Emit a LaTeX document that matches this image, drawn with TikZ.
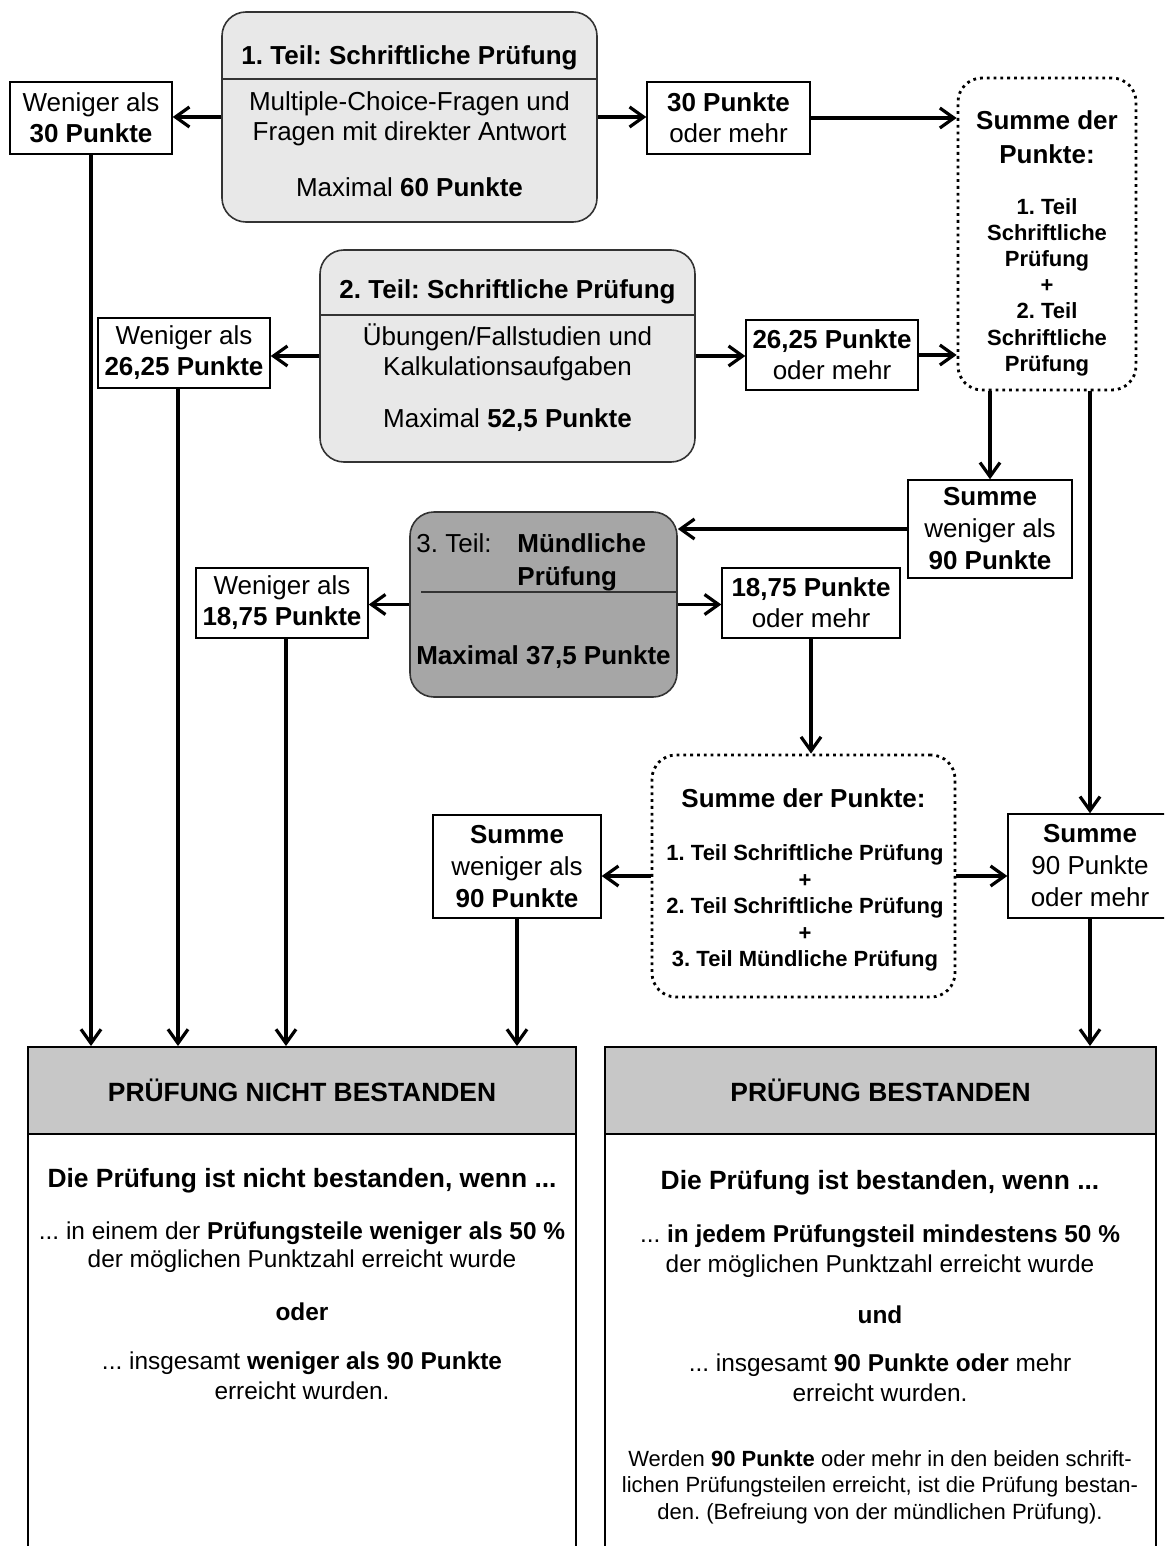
\documentclass[tikz,border=0pt]{standalone}
\usepackage{fontspec}
\setmainfont{Liberation Sans}
\usetikzlibrary{arrows.meta}
\frenchspacing

\begin{document}
\begin{tikzpicture}[x=0.5pt,y=-0.5pt]
  \tikzstyle{teil}=[draw=black!80,line width=0.8pt,rounded corners=12pt,fill=black!9]
  \tikzstyle{feld}=[draw,line width=0.7pt,align=center,inner sep=1pt,font=\fontsize{13}{15.5}\selectfont]
  \tikzstyle{summe}=[draw,dotted,line width=1.4pt,rounded corners=12pt]
  \tikzstyle{kopf}=[draw,line width=0.8pt,fill=black!22,font=\fontsize{13.2}{16}\selectfont\bfseries]
  \tikzstyle{txt}=[align=center,font=\fontsize{13}{15}\selectfont]
  \tikzstyle{pfeil}=[-{Straight Barb[length=7pt,width=10pt]},line width=1.6pt]
  \useasboundingbox (0,0) rectangle (1164,1546);
  \clip (0,0) rectangle (1164,1546);

  \node[teil,minimum width=187.5pt,minimum height=105pt] (t1) at (409.5,117) {};
  \draw[line width=0.8pt,black!80] ([yshift=-34pt]t1.north west) -- ([yshift=-34pt]t1.north east);
  \node[txt] (t1k) at (409.5,58) {\textbf{1. Teil: Schriftliche Prüfung}};
  \node[txt] (t1a) at (409.5,119) {Multiple-Choice-Fragen und\\Fragen mit direkter Antwort};
  \node[txt] (t1b) at (409.5,187) {Maximal \textbf{60 Punkte}};

  \node[teil,minimum width=187.5pt,minimum height=106pt] (t2) at (507.5,356) {};
  \draw[line width=0.8pt,black!80] ([yshift=-33pt]t2.north west) -- ([yshift=-33pt]t2.north east);
  \node[txt] (t2k) at (507.5,292) {\textbf{2. Teil: Schriftliche Prüfung}};
  \node[txt] (t2a) at (507.5,352) {Übungen/Fallstudien und\\Kalkulationsaufgaben};
  \node[txt] (t2b) at (507.5,420) {Maximal \textbf{52,5 Punkte}};

  \node[teil,fill=black!35,minimum width=133.5pt,minimum height=92.5pt] (t3) at (543.5,604.5) {};
  \draw[line width=0.8pt,black!80] ([xshift=6pt,yshift=-40.5pt]t3.north west) -- ([yshift=-40.5pt]t3.north east);
  \node[txt,anchor=base west,inner sep=0pt] (t3k) at (416,552) {3. Teil:};
  \node[txt,anchor=base west,inner sep=0pt] (t3m) at (517,552) {\textbf{Mündliche}};
  \node[txt,anchor=base west,inner sep=0pt] (t3p) at (517,585) {\textbf{Prüfung}};
  \node[txt] (t3b) at (543.5,657) {\textbf{Maximal 37,5 Punkte}};

  \node[feld,minimum width=81pt,minimum height=36pt] (w1) at (91,118) {Weniger als\\\textbf{30 Punkte}};
  \node[feld,minimum width=81.5pt,minimum height=36pt] (p1) at (728.5,118) {\textbf{30 Punkte}\\oder mehr};
  \node[feld,minimum width=86pt,minimum height=35pt] (w2) at (184,353) {Weniger als\\\textbf{26,25 Punkte}};
  \node[feld,minimum width=86pt,minimum height=35pt] (p2) at (832,355) {\textbf{26,25 Punkte}\\oder mehr};
  \node[feld,minimum width=86pt,minimum height=35pt] (w3) at (282,603) {Weniger als\\\textbf{18,75 Punkte}};
  \node[feld,minimum width=89pt,minimum height=35pt] (p3) at (811,603) {\textbf{18,75 Punkte}\\oder mehr};
  \node[feld,minimum width=82pt,minimum height=49pt,font=\fontsize{13}{16}\selectfont] (r1) at (990,529) {\textbf{Summe}\\weniger als\\\textbf{90 Punkte}};
  \node[feld,minimum width=84pt,minimum height=51.5pt,font=\fontsize{13}{16}\selectfont] (l4) at (517,866.5) {\textbf{Summe}\\weniger als\\\textbf{90 Punkte}};
  \node[feld,minimum width=82pt,minimum height=52pt,font=\fontsize{13}{16}\selectfont] (r2) at (1090,866) {\textbf{Summe}\\90 Punkte\\oder mehr};

  \node[summe,minimum width=89pt,minimum height=156pt] (s1) at (1047,234) {};
  \node[txt,font=\fontsize{13}{17}\selectfont\bfseries] (s1k) at (1047,137) {Summe der\\Punkte:};
  \node[align=center,font=\fontsize{11}{13.1}\selectfont\bfseries] (s1l) at (1047,287) {1. Teil\\Schriftliche\\Prüfung\\+\\2. Teil\\Schriftliche\\Prüfung};
  \node[summe,minimum width=151.5pt,minimum height=121pt] (s2) at (803.5,876) {};
  \node[txt] (s2k) at (803.5,798) {\textbf{Summe der Punkte:}};
  \node[align=center,font=\fontsize{11}{13.25}\selectfont\bfseries] (s2l) at (805,908) {1. Teil Schriftliche Prüfung\\+\\2. Teil Schriftliche Prüfung\\+\\3. Teil Mündliche Prüfung};

  \node[draw,line width=0.8pt,minimum width=274pt,minimum height=260pt,anchor=north] (nb) at (302,1046) {};
  \node[kopf,minimum width=274pt,minimum height=43.5pt,anchor=north] (nbk) at (nb.north) {PRÜFUNG NICHT BESTANDEN};
  \node[align=center,font=\fontsize{13.2}{16}\selectfont\bfseries] (nb1) at (302,1181) {Die Prüfung ist nicht bestanden, wenn ...};
  \node[align=center,font=\fontsize{12.2}{14}\selectfont] (nb2) at (302,1247) {... in einem der \textbf{Prüfungsteile weniger als 50 \%}\\der möglichen Punktzahl erreicht wurde};
  \node[align=center,font=\fontsize{12.2}{14}\selectfont\bfseries] (nb3) at (302,1312) {oder};
  \node[align=center,font=\fontsize{12.2}{15}\selectfont] (nb4) at (302,1376) {... insgesamt \textbf{weniger als 90 Punkte}\\erreicht wurden.};

  \node[draw,line width=0.8pt,minimum width=275.5pt,minimum height=260pt,anchor=north] (b) at (880.5,1046) {};
  \node[kopf,minimum width=275.5pt,minimum height=43.5pt,anchor=north] (bk) at (b.north) {PRÜFUNG BESTANDEN};
  \node[align=center,font=\fontsize{13.2}{16}\selectfont\bfseries] (b1) at (880,1183) {Die Prüfung ist bestanden, wenn ...};
  \node[align=center,font=\fontsize{12.2}{15}\selectfont] (b2) at (880,1251) {... \textbf{in jedem Prüfungsteil mindestens 50 \%}\\der möglichen Punktzahl erreicht wurde};
  \node[align=center,font=\fontsize{12.2}{14}\selectfont\bfseries] (b3) at (880,1315) {und};
  \node[align=center,font=\fontsize{12.2}{15}\selectfont] (b4) at (880,1378) {... insgesamt \textbf{90 Punkte oder} mehr\\erreicht wurden.};
  \node[align=center,font=\fontsize{11}{13.25}\selectfont] (b5) at (880,1487) {Werden \textbf{90 Punkte} oder mehr in den beiden schrift-\\lichen Prüfungsteilen erreicht, ist die Prüfung bestan-\\den. (Befreiung von der mündlichen Prüfung).};

  \draw[pfeil] (t1.west) -- (t1.west -| w1.east);
  \draw[pfeil] (t1.east) -- (t1.east -| p1.west);
  \draw[pfeil] (p1.east) -- (p1.east -| s1.west);
  \draw[pfeil] (t2.west) -- (t2.west -| w2.east);
  \draw[pfeil] (t2.east) -- (t2.east -| p2.west);
  \draw[pfeil] (p2.east) -- (p2.east -| s1.west);
  \draw[pfeil] (s1.south -| r1.north) -- (r1.north);
  \draw[pfeil] (s1.south -| r2.north) -- (r2.north);
  \draw[pfeil] (r1.west) -- (r1.west -| t3.east);
  \draw[pfeil] (t3.west) -- (t3.west -| w3.east);
  \draw[pfeil] (t3.east) -- (t3.east -| p3.west);
  \draw[pfeil] (p3.south) -- (p3.south |- s2.north);
  \draw[pfeil] (s2.west) -- (s2.west -| l4.east);
  \draw[pfeil] (s2.east) -- (s2.east -| r2.west);
  \draw[pfeil] (w1.south) -- (w1.south |- nb.north);
  \draw[pfeil] ([xshift=-3pt]w2.south) -- ([xshift=-3pt]w2.south |- nb.north);
  \draw[pfeil] ([xshift=2pt]w3.south) -- ([xshift=2pt]w3.south |- nb.north);
  \draw[pfeil] (l4.south) -- (l4.south |- nb.north);
  \draw[pfeil] (r2.south) -- (r2.south |- b.north);
\end{tikzpicture}
\end{document}
